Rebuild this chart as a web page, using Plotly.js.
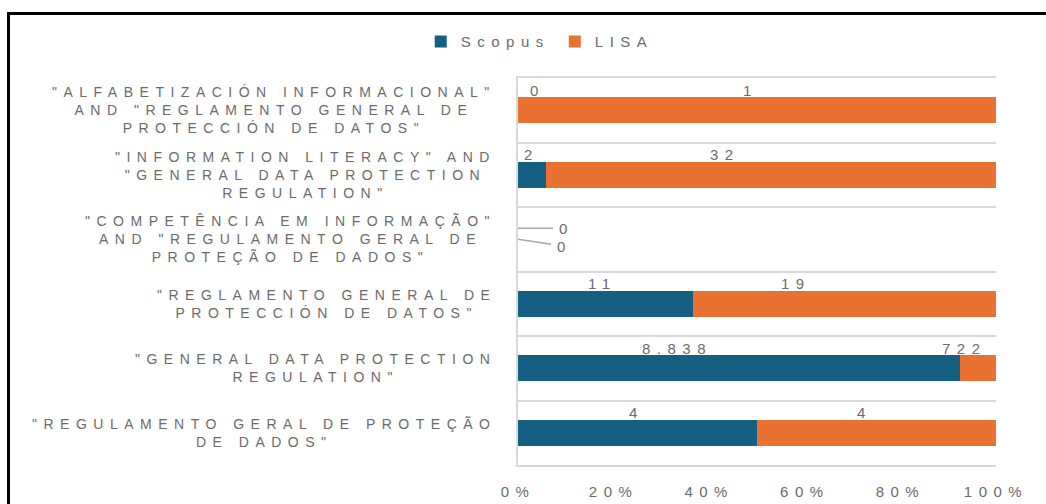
<!DOCTYPE html>
<html>
<head>
<meta charset="utf-8">
<script src="https://cdn.plot.ly/plotly-3.0.1.min.js"></script>
<style>
  html, body { margin: 0; padding: 0; background: #ffffff; overflow: hidden; }
  #chart { position: absolute; left: 0; top: 0; width: 1046px; height: 504px; }
  #frame { position: absolute; left: 7px; top: 12px; width: 1100px; height: 600px;
           border-left: 3px solid #000; border-top: 3px solid #000; pointer-events: none; }
  svg text { letter-spacing: 6.5px; }
</style>
</head>
<body>
<div id="chart"></div>
<div id="frame"></div>
<script>
// ---- data ----
var categories = [
  '"ALFABETIZACIÓN INFORMACIONAL"<br>AND "REGLAMENTO GENERAL DE<br>PROTECCIÓN DE DATOS"',
  '"INFORMATION LITERACY" AND<br>"GENERAL DATA PROTECTION<br>REGULATION"',
  '"COMPETÊNCIA EM INFORMAÇÃO"<br>AND "REGULAMENTO GERAL DE<br>PROTEÇÃO DE DADOS"',
  '"REGLAMENTO GENERAL DE<br>PROTECCIÓN DE DATOS"',
  '"GENERAL DATA PROTECTION<br>REGULATION"',
  '"REGULAMENTO GERAL DE PROTEÇÃO<br>DE DADOS"'
];
var scopus = [0, 2, 0, 11, 8838, 4];
var lisa   = [1, 32, 0, 19, 722, 4];
var seriesNames = ['Scopus', 'LISA'];
var xTickVals = [0, 20, 40, 60, 80, 100];
var xTickText = ['0%', '20%', '40%', '60%', '80%', '100%'];

// ---- style ----
var colors = ['#156082', '#E97132'];
var textColor = '#6b6b6b';
var fontFam = '"Liberation Sans", Arial, sans-serif';
// horizontal pixel nudges of the data labels (manual label placement in the original)
var nudgeScopus = [19, -1, 0, -3, -62, -1];
var nudgeLisa   = [-7, -46, 0, -49, -13, -12];

function fmt(n) { return String(n).replace(/\B(?=(\d{3})+(?!\d))/g, '.'); }

var traces = [
  { type: 'bar', orientation: 'h', name: seriesNames[0], y: categories, x: scopus,
    marker: { color: colors[0], line: { width: 0 } }, hoverinfo: 'none' },
  { type: 'bar', orientation: 'h', name: seriesNames[1], y: categories, x: lisa,
    marker: { color: colors[1], line: { width: 0 } }, hoverinfo: 'none' }
];

var annotations = [];
categories.forEach(function (c) {
  annotations.push({
    xref: 'paper', yref: 'y', x: 0, y: c, xanchor: 'right', yanchor: 'middle',
    xshift: -20, text: c, align: 'center', showarrow: false,
    font: { family: fontFam, size: 14, color: textColor }
  });
});
categories.forEach(function (c, i) {
  var total = scopus[i] + lisa[i];
  if (total === 0) {
    annotations.push({ xref: 'x', yref: 'y', x: 0, y: c, yshift: 11, text: fmt(scopus[i]),
      showarrow: true, arrowhead: 0, arrowwidth: 1.5, arrowcolor: '#a6a6a6', ax: 48, ay: 0,
      standoff: 0, startstandoff: 4,
      font: { family: fontFam, size: 15, color: textColor } });
    annotations.push({ xref: 'x', yref: 'y', x: 0, y: c, yshift: 0, text: fmt(lisa[i]),
      showarrow: true, arrowhead: 0, arrowwidth: 1.5, arrowcolor: '#a6a6a6', ax: 46, ay: 7,
      standoff: 0, startstandoff: 4,
      font: { family: fontFam, size: 15, color: textColor } });
    return;
  }
  var ps = scopus[i] / total * 100;
  var pl = lisa[i] / total * 100;
  annotations.push({ xref: 'x', yref: 'y', x: ps / 2, y: c, yshift: 20, xshift: nudgeScopus[i],
    text: fmt(scopus[i]), showarrow: false, yanchor: 'middle',
    font: { family: fontFam, size: 15, color: textColor } });
  annotations.push({ xref: 'x', yref: 'y', x: ps + pl / 2, y: c, yshift: 20, xshift: nudgeLisa[i],
    text: fmt(lisa[i]), showarrow: false, yanchor: 'middle',
    font: { family: fontFam, size: 15, color: textColor } });
});

var layout = {
  width: 1046, height: 504,
  margin: { l: 518, r: 50, t: 78, b: 39, pad: 0 },
  paper_bgcolor: '#ffffff', plot_bgcolor: '#ffffff',
  barmode: 'stack', barnorm: 'percent', bargap: 0.6,
  font: { family: fontFam, size: 15, color: textColor },
  showlegend: true,
  legend: { orientation: 'h', xref: 'container', yref: 'container', x: 0.516, y: 0.917,
            xanchor: 'center', yanchor: 'middle', font: { family: fontFam, size: 15, color: textColor },
            itemwidth: 30, traceorder: 'normal' },
  xaxis: { range: [0, 100], tickvals: xTickVals, ticktext: xTickText, showgrid: false,
           zeroline: false, showline: true, mirror: true, linecolor: '#d9d9d9', linewidth: 2,
           ticks: '', ticklabelstandoff: 12, fixedrange: true,
           tickfont: { family: fontFam, size: 15, color: textColor } },
  yaxis: { type: 'category', autorange: 'reversed', tickson: 'boundaries', showgrid: true,
           gridcolor: '#d9d9d9', gridwidth: 2, showticklabels: false, ticks: '',
           showline: true, linecolor: '#d9d9d9', linewidth: 2, zeroline: false, fixedrange: true },
  annotations: annotations
};

Plotly.newPlot('chart', traces, layout, { displayModeBar: false, staticPlot: true });
</script>
</body>
</html>
